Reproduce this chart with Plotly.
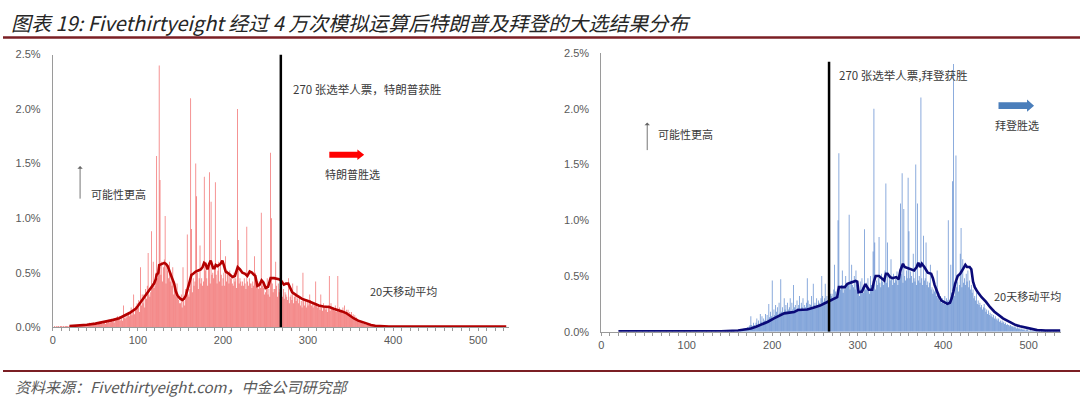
import plotly.graph_objects as go

# ---------------- data ----------------
# electoral votes (categories) 0..539
ev = list(range(540))

# Trump: probability of each electoral-vote outcome, in hundredths of a percent (bp)
trump_bp = [
    0,0,1,0,1,0,1,1,0,1, 1,0,1,1,0,1,1,1,0,1,
    1,2,1,1,2,1,1,2,1,2, 2,1,2,2,1,3,2,1,2,3,
    2,3,2,4,2,3,3,2,4,3, 3,4,2,4,3,5,3,4,3,5,
    4,5,3,6,4,5,7,4,5,8, 5,6,4,8,6,9,10,7,10,6,
    7,10,6,20,9,8,12,9,11,14, 10,13,18,11,15,30,12,19,16,22,
    18,25,14,55,20,30,22,30,18,35, 26,38,68,30,28,32,88,40,60,36,
    38,50,157,45,55,240,135,48,60,42, 55,62,102,40,58,52,45,60,42,50,
    38,55,30,42,35,28,40,30,25,22, 22,30,18,55,24,20,35,30,85,30,
    28,35,210,90,32,45,38,42,150,120, 50,35,45,75,40,45,38,42,138,52,
    60,45,38,55,142,40,115,48,50,45, 55,133,48,40,52,60,42,80,48,38,
    45,50,38,65,42,52,48,40,52,45, 45,40,38,50,42,45,36,200,80,40,
    45,42,38,42,38,45,40,35,92,42, 38,45,40,40,36,42,38,65,50,40,
    38,42,35,40,36,105,38,42,36,30, 32,38,45,30,35,28,160,100,40,32,
    35,35,60,38,28,40,32,35,38,30, 28,35,26,32,30,28,25,45,22,28,
    30,25,40,22,28,30,24,38,26,22, 28,20,24,18,50,26,20,24,18,24,
    20,22,30,25,20,22,18,22,20,42, 22,18,20,20,16,30,18,15,22,18,
    20,16,18,14,20,47,15,22,18,16, 18,15,20,14,16,47,14,18,15,16,
    14,18,15,20,13,16,14,16,12,14, 12,14,10,12,9,11,8,9,7,6,
    6,5,5,4,4,3,3,3,2,2, 2,2,1,2,1,1,2,1,1,1,
    1,1,0,1,1,0,1,0,1,0, 0,1,0,0,1,0,0,1,0,0,
    1,0,1,0,0,1,0,1,0,0, 1,0,0,1,0,0,1,0,0,1,
    0,1,0,0,1,0,0,0,1,0, 0,1,0,0,0,1,0,0,1,0,
    0,0,1,0,0,0,1,0,0,0, 0,1,0,0,0,0,1,0,0,0,
    0,1,0,0,0,0,0,1,0,0, 0,0,1,0,0,0,0,0,1,0,
    0,0,0,1,0,0,0,0,0,1, 0,0,0,0,1,0,0,0,0,0,
    1,0,0,0,0,0,1,0,0,0, 0,0,0,1,0,0,0,0,0,1,
    0,0,0,0,0,1,0,0,0,0, 0,1,0,0,0,0,0,0,1,0,
]

# Biden: probability of each electoral-vote outcome, bp
biden_bp = [
    0,0,0,0,0,0,0,0,0,0, 0,0,0,0,0,0,0,0,0,0,
    0,0,0,1,0,0,0,0,0,0, 0,0,1,0,0,0,0,0,0,0,
    0,1,0,0,0,0,0,0,1,0, 0,0,0,0,0,1,0,0,0,0,
    0,0,1,0,0,0,0,0,0,1, 0,0,0,0,0,0,1,0,0,0,
    0,0,0,1,0,0,0,0,0,0, 1,0,0,0,0,0,0,1,0,0,
    0,0,0,0,1,0,0,0,0,0, 0,1,0,0,0,0,0,0,1,0,
    0,0,0,1,0,0,0,0,0,1, 0,0,0,0,1,0,0,0,0,0,
    1,0,0,0,0,1,0,0,1,0, 0,0,1,0,0,1,0,0,0,1,
    1,0,1,1,2,1,2,3,2,3, 3,4,2,5,6,14,6,5,8,6,
    5,8,12,6,10,7,16,9,14,8, 12,10,16,9,15,11,25,13,18,14,
    46,12,20,15,24,18,22,14,26,17, 47,18,22,16,30,20,24,18,26,20,
    22,30,18,26,20,42,22,24,19,28, 21,24,32,20,26,22,30,20,24,22,
    26,48,28,21,25,24,32,22,43,24, 26,22,30,24,28,26,24,30,50,32,
    27,30,43,26,32,28,36,30,34,32, 34,28,38,60,36,30,38,100,160,40,
    38,42,55,35,40,38,50,40,42,44, 105,38,46,60,42,40,50,38,55,42,
    36,42,32,45,38,48,40,35,92,38, 44,38,48,40,34,50,42,40,72,200,
    80,38,46,42,48,85,44,40,52,45, 42,48,55,133,44,80,40,50,46,65,
    48,42,52,44,50,46,54,42,50,48, 115,52,142,44,110,50,46,55,48,138,
    90,48,54,50,44,70,48,45,150,42, 115,46,50,44,210,48,42,86,46,48,
    80,42,45,40,44,60,38,40,34,38, 36,40,32,55,30,35,28,32,26,30,
    28,25,32,24,30,28,100,26,28,60, 35,135,240,32,38,158,40,45,36,42,
    70,93,40,65,44,48,42,52,45,55, 40,46,38,42,35,38,30,32,28,35,
    25,28,24,26,22,24,20,22,25,21, 18,20,16,19,15,17,14,16,13,15,
    12,14,11,12,10,12,9,10,8,10, 8,9,7,8,6,7,6,6,5,6,
    5,5,4,5,4,4,3,4,3,3, 3,2,3,2,2,2,1,2,2,2,
    1,1,2,1,1,1,1,1,1,1, 1,0,1,1,0,1,0,1,0,1,
    1,0,1,0,1,0,1,0,0,1, 0,1,0,1,0,0,1,0,1,0,
]

# 20-point moving averages (EV, percent)
trump_ma_x = [19.5,30,40,50,58.6,70,78,85,90,97.7,105.5,113.3,119,121,122,124,125,128,131,133,135,
              138.7,142.6,144.5,146.5,150,152.4,154,156.3,160.2,162.9,165,168,171,173.9,176,177.8,
              179.5,181.7,183.7,185.6,188.4,190,191.5,193.5,197,199.3,201,203.2,207,211.1,214,217.3,
              220,222.8,226,228.6,231.4,234,236.4,238,240.4,243,245.4,247.5,250.1,253,256,260,265.7,
              268,271.6,274,276.7,279,281.4,287,293,300,306,312.6,318,325,330,335,340,344.7,349,354,
              359,364.5,369,374,379,384,395,420,480,533]
trump_ma_y = [0.01,0.015,0.022,0.033,0.045,0.065,0.083,0.11,0.13,0.17,0.25,0.34,0.40,0.44,0.48,0.50,0.57,
              0.58,0.59,0.58,0.56,0.48,0.40,0.33,0.29,0.26,0.25,0.26,0.29,0.40,0.48,0.49,0.51,0.52,0.53,
              0.55,0.59,0.58,0.53,0.58,0.61,0.54,0.54,0.57,0.56,0.58,0.61,0.57,0.51,0.49,0.46,0.47,0.55,
              0.53,0.50,0.49,0.47,0.51,0.50,0.48,0.47,0.38,0.39,0.43,0.41,0.36,0.37,0.45,0.45,0.44,0.43,
              0.39,0.40,0.40,0.36,0.32,0.29,0.26,0.24,0.22,0.20,0.19,0.185,0.17,0.16,0.145,0.13,0.105,
              0.08,0.06,0.045,0.03,0.02,0.014,0.01,0.007,0.005,0.005,0.005]

biden_ma_x = [20,60,100,140,160,170,175,181,187,195,202,208,214,220,225.6,230,241,249,256,264.5,272,276,
              278,285,288,291,297.5,299.5,301,305,309,313,317,319,321,325,328,331,333,335,338,341,345,348,
              350,353,355,358,362,366,369,371,373,375,378,380,382,386,388,390,393,395,398,401,405,408,410,
              412,414,417,420,423,426,428,431,433,435,437,440,445,450,455,460,465,470,475,480,485,490,495,
              500,505,510,520,530,537]
biden_ma_y = [0.004,0.004,0.004,0.005,0.012,0.02,0.03,0.045,0.064,0.09,0.12,0.145,0.165,0.172,0.177,0.195,
              0.20,0.218,0.235,0.267,0.296,0.31,0.40,0.40,0.43,0.44,0.456,0.45,0.354,0.36,0.427,0.377,0.377,
              0.45,0.50,0.50,0.48,0.46,0.52,0.52,0.49,0.48,0.49,0.47,0.55,0.61,0.58,0.57,0.56,0.55,0.58,0.62,
              0.58,0.61,0.58,0.56,0.53,0.52,0.48,0.42,0.36,0.32,0.28,0.27,0.25,0.26,0.30,0.36,0.43,0.50,0.52,
              0.56,0.60,0.58,0.58,0.56,0.45,0.40,0.36,0.31,0.27,0.22,0.18,0.15,0.12,0.10,0.08,0.06,0.05,0.04,
              0.03,0.02,0.015,0.01,0.01,0.01]

y_ticks = [0, 0.5, 1.0, 1.5, 2.0, 2.5]
y_tick_text = ["0.0%", "0.5%", "1.0%", "1.5%", "2.0%", "2.5%"]
x_ticks = [0, 100, 200, 300, 400, 500]

trump_line_ev = 268
biden_line_ev = 266.5

title_text = "图表 19: Fivethirtyeight 经过 4 万次模拟运算后特朗普及拜登的大选结果分布"
source_text = "资料来源：Fivethirtyeight.com，中金公司研究部"

# ---------------- figure ----------------
W, H = 1080, 406
CJK = "Noto Sans CJK SC"
TICKFONT = dict(family="Liberation Sans, Arial, sans-serif", size=11, color="#595959")

fig = go.Figure()

fig.add_trace(go.Bar(x=ev, y=[v / 100 for v in trump_bp], xaxis="x", yaxis="y",
                     marker=dict(color="rgba(236,48,48,0.68)", line=dict(width=0)),
                     hoverinfo="skip", showlegend=False))
fig.add_trace(go.Scatter(x=trump_ma_x, y=trump_ma_y, xaxis="x", yaxis="y", mode="lines",
                         line=dict(color="#B40000", width=2.6), hoverinfo="skip", showlegend=False))

fig.add_trace(go.Bar(x=ev, y=[v / 100 for v in biden_bp], xaxis="x2", yaxis="y2",
                     marker=dict(color="rgba(55,110,195,0.75)", line=dict(width=0)),
                     hoverinfo="skip", showlegend=False))
fig.add_trace(go.Scatter(x=biden_ma_x, y=biden_ma_y, xaxis="x2", yaxis="y2", mode="lines",
                         line=dict(color="#0A0A78", width=2.6), hoverinfo="skip", showlegend=False))

def xaxis_cfg(domain, rng, anchor):
    return dict(domain=domain, range=rng, anchor=anchor, showline=True, linecolor="#9a9a9a",
                linewidth=1, ticks="outside", ticklen=3, tickcolor="#9a9a9a", tickvals=x_ticks,
                minor=dict(dtick=10, tick0=0, ticks="outside", ticklen=3, tickcolor="#9a9a9a"),
                showgrid=False, zeroline=False, tickfont=TICKFONT, fixedrange=True)

def yaxis_cfg(domain, anchor):
    return dict(domain=domain, range=[0, 2.5], anchor=anchor, showline=True, linecolor="#9a9a9a",
                linewidth=1, ticks="", tickvals=y_ticks, ticktext=y_tick_text, showgrid=False,
                zeroline=False, tickfont=TICKFONT, ticklabelstandoff=9, fixedrange=True)

fig.update_layout(
    width=W, height=H, autosize=False,
    margin=dict(l=0, r=0, t=0, b=0),
    paper_bgcolor="white", plot_bgcolor="white",
    bargap=0.1,
    xaxis=xaxis_cfg([50 / W, 507.2 / W], [0, 536], "y"),
    yaxis=yaxis_cfg([(H - 331) / H, (H - 50) / H], "x"),
    xaxis2=xaxis_cfg([600 / W, 1061 / W], [0, 538], "y2"),
    yaxis2=yaxis_cfg([(H - 335.7) / H, (H - 48.3) / H], "x2"),
)

shapes = []
# header / footer rules
shapes.append(dict(type="line", xref="paper", yref="paper", x0=0, x1=1,
                   y0=(H - 32.5) / H, y1=(H - 32.5) / H, line=dict(color="#7B1F24", width=2.5)))
shapes.append(dict(type="line", xref="paper", yref="paper", x0=0, x1=1,
                   y0=(H - 376) / H, y1=(H - 376) / H, line=dict(color="#7B1F24", width=2)))
# 270 lines
shapes.append(dict(type="line", xref="x", yref="y", x0=trump_line_ev, x1=trump_line_ev, y0=0, y1=2.5,
                   line=dict(color="black", width=2.5)))
shapes.append(dict(type="line", xref="x2", yref="y2", x0=biden_line_ev, x1=biden_line_ev, y0=0, y1=2.42,
                   line=dict(color="black", width=2.5)))

def block_arrow(x0, x1, xh, yc, hs, hh):
    return (f"M {x0},{yc-hs} L {xh},{yc-hs} L {xh},{yc-hh} L {x1},{yc} "
            f"L {xh},{yc+hh} L {xh},{yc+hs} L {x0},{yc+hs} Z")

shapes.append(dict(type="path", xref="x", yref="y", path=block_arrow(325, 366, 358, 1.581, 0.027, 0.049),
                   fillcolor="#FF0000", line=dict(width=0)))
shapes.append(dict(type="path", xref="x2", yref="y2", path=block_arrow(464.8, 506.4, 498.2, 2.027, 0.03, 0.054),
                   fillcolor="#4A7EBB", line=dict(width=0)))
fig.update_layout(shapes=shapes)

ann = []
ann.append(dict(xref="paper", yref="paper", x=6 / W, y=(H - 17) / H, xanchor="left", yanchor="middle",
                text=title_text, showarrow=False,
                font=dict(family=CJK, size=20, color="#262626", style="italic")))
ann.append(dict(xref="paper", yref="paper", x=10 / W, y=(H - 392.5) / H, xanchor="left", yanchor="middle",
                text=source_text, showarrow=False,
                font=dict(family=CJK, size=15, color="#595959", style="italic")))

def label(xr, yr, x, y, text, size=11):
    return dict(xref=xr, yref=yr, x=x, y=y, xanchor="left", yanchor="middle", text=text,
                showarrow=False, font=dict(family=CJK, size=size, color="#3a3a3a"))

ann.append(label("x", "y", 280.2, 2.18, "270 张选举人票，特朗普获胜", 11.5))
ann.append(label("x", "y", 317.4, 1.408, "特朗普胜选"))
ann.append(label("x", "y", 43, 1.225, "可能性更高"))
ann.append(label("x", "y", 370, 0.329, "20天移动平均"))
ann.append(label("x2", "y2", 276.2, 2.30, "270 张选举人票,拜登获胜", 11.5))
ann.append(label("x2", "y2", 458.2, 1.853, "拜登胜选"))
ann.append(label("x2", "y2", 64.2, 1.769, "可能性更高"))
ann.append(label("x2", "y2", 457.4, 0.317, "20天移动平均"))

# thin "higher likelihood" arrows
ann.append(dict(xref="x", yref="y", axref="x", ayref="y", x=32, y=1.477, ax=32, ay=1.165, text="",
                showarrow=True, arrowhead=1, arrowsize=1, arrowwidth=0.9, arrowcolor="#666666"))
ann.append(dict(xref="x2", yref="y2", axref="x2", ayref="y2", x=53.7, y=1.876, ax=53.7, ay=1.615, text="",
                showarrow=True, arrowhead=1, arrowsize=1, arrowwidth=0.9, arrowcolor="#666666"))
fig.update_layout(annotations=ann)

fig.write_html("out.html", config={"displayModeBar": False},
               post_script="document.body.style.margin='0';document.body.style.overflow='hidden';")
